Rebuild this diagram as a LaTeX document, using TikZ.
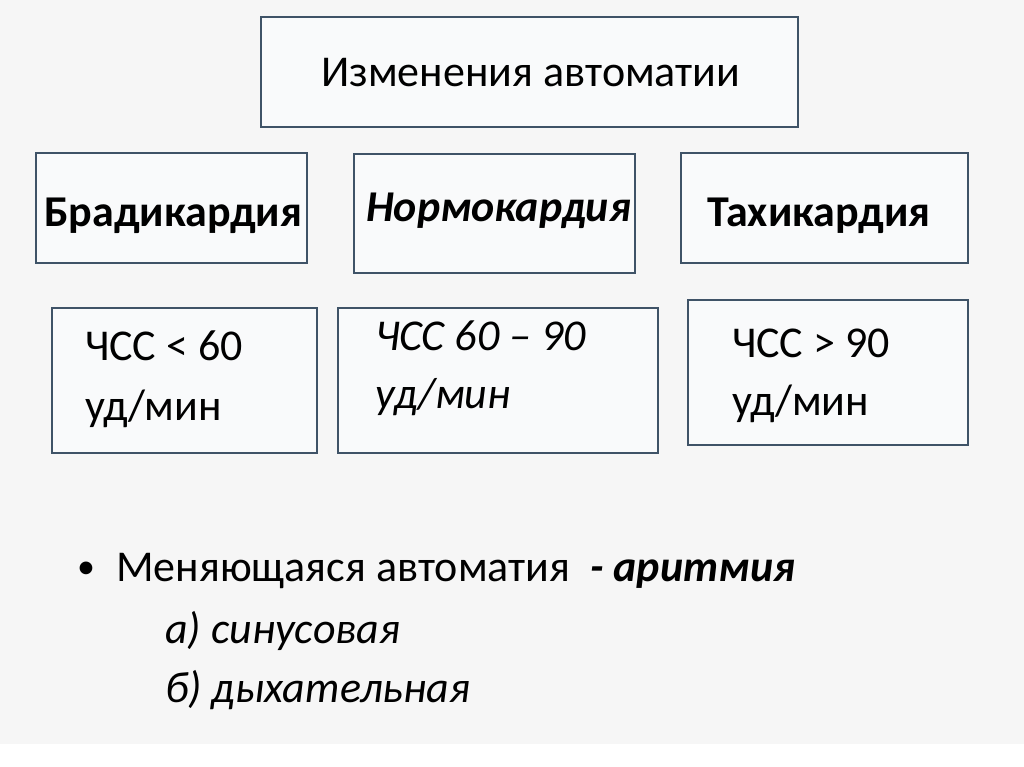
\documentclass[tikz,border=0pt]{standalone}
\usepackage{fontspec}
\setmainfont{Carlito}
\definecolor{bg}{HTML}{F6F6F6}
\definecolor{edge}{HTML}{3F5367}
\definecolor{boxfill}{HTML}{F9FAFB}
\begin{document}
\begin{tikzpicture}[x=1pt,y=-1pt,
  box/.style={draw=edge, line width=2.8pt, fill=boxfill, inner sep=0pt, rectangle},
  txt/.style={font=\fontsize{44}{59}\selectfont, inner sep=0pt, anchor=base west, align=left},
  bold/.style={txt, font=\fontsize{44}{59}\selectfont\bfseries},
  bolditalic/.style={txt, font=\fontsize{44}{59}\selectfont\bfseries\itshape},
  ital/.style={txt, font=\fontsize{44}{59}\selectfont\itshape}]
\fill[bg] (0,0) rectangle (1024,744);
\fill[white] (0,744) rectangle (1024,767);
\useasboundingbox (0,0) rectangle (1024,767);

\node[box, minimum width=537pt, minimum height=110pt] (top) at (529.5,72) {};
\node[box, minimum width=271pt, minimum height=110pt] (brad) at (171.5,208) {};
\node[box, minimum width=281pt, minimum height=119pt] (norm) at (494.5,213.5) {};
\node[box, minimum width=287pt, minimum height=110pt] (tach) at (824.5,208) {};
\node[box, minimum width=265pt, minimum height=145pt] (bradv) at (184.5,380.5) {};
\node[box, minimum width=320pt, minimum height=145pt] (normv) at (498,380.5) {};
\node[box, minimum width=280pt, minimum height=145pt] (tachv) at (828,372.5) {};

\node[txt] (toptxt) at (321,87) {Изменения автоматии};
\node[bold] (bradtxt) at (44,226) {Брадикардия};
\node[bolditalic] (normtxt) at (366,222) {Нормокардия};
\node[bold] (tachtxt) at (707,226) {Тахикардия};

\node[txt] (bradv1) at (85,360) {ЧСС < 60};
\node[txt] (bradv2) at (85,420) {уд/мин};
\node[ital] (normv1) at (375,350) {ЧСС 60 – 90};
\node[ital] (normv2) at (375,408) {уд/мин};
\node[txt] (tachv1) at (732,357) {ЧСС > 90};
\node[txt] (tachv2) at (732,415) {уд/мин};

\node[txt, font=\fontsize{36}{40}\selectfont] (bullet) at (77,578) {•};
\node[txt] (line1) at (116,581) {Меняющаяся автоматия\ \ {\bfseries\itshape - аритмия}};
\node[ital] (line2) at (165,643) {а) синусовая};
\node[ital] (line3) at (165,702) {б) дыхательная};
\end{tikzpicture}
\end{document}
